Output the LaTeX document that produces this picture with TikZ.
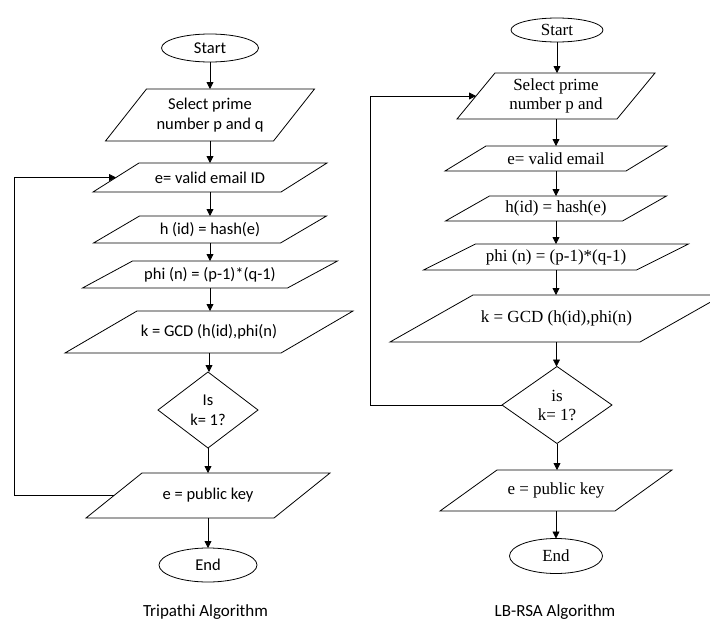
\documentclass[tikz,border=0pt]{standalone}
\usepackage{fontspec}
\setmainfont{Liberation Serif}
\newfontfamily\calibri{Carlito}
\usetikzlibrary{shapes.geometric,arrows.meta}
\begin{document}
\begin{tikzpicture}[x=1pt,y=-1pt,line width=0.8pt,
  flow/.style={-{Triangle[length=7pt,width=7pt]}},
  io/.style 2 args={rectangle,inner sep=0pt,outer sep=0pt,align=center,minimum width=#1pt,minimum height=#2pt},
  term/.style={draw,ellipse,inner sep=0pt,outer sep=0pt},
  test/.style={draw,diamond,inner sep=0pt,outer sep=0pt,align=center},
  sans/.style={font=\calibri\fontsize{16.5}{20}\selectfont},
  serif/.style={font=\fontsize{17}{19}\selectfont}]
\useasboundingbox (0,0) rectangle (710,624);
\begin{scope}[sans]
\node[term,minimum width=97pt,minimum height=28pt] (startL) at (210,48) {Start};
\node[io={168}{52}] (selL) at (210,115) {Select prime\\number p and q};
\node[io={188}{29}] (emailL) at (210,177.5) {e= valid email ID};
\node[io={187}{27}] (hashL) at (210,229.5) {h (id) = hash(e)};
\node[io={205}{27}] (phiL) at (210,274.5) {phi (n) = (p-1)*(q-1)};
\node[io={216}{42}] (gcdL) at (209,332) {k = GCD (h(id),phi(n)};
\node[test,minimum width=100pt,minimum height=76pt] (decL) at (208,410) {Is\\k= 1?};
\node[io={188}{45}] (keyL) at (208,495.5) {e = public key};
\node[term,minimum width=98pt,minimum height=34pt] (endL) at (208,565) {End};
\node[font=\calibri\fontsize{17}{20}\selectfont] (capL) at (205.5,612) {Tripathi Algorithm};
\end{scope}
\begin{scope}[serif]
\node[term,minimum width=92pt,minimum height=24pt] (startR) at (557,30) {Start};
\node[io={160}{46}] (selR) at (556,96) {Select prime\\number p and};
\node[io={181}{25}] (emailR) at (556,158.5) {e= valid email};
\node[io={177}{25}] (hashR) at (556,208.5) {h(id) = hash(e)};
\node[io={213}{26}] (phiR) at (556,257) {phi (n) = (p-1)*(q-1)};
\node[io={250}{47}] (gcdR) at (556.5,318.5) {k = GCD (h(id),phi(n)};
\node[test,minimum width=110pt,minimum height=77pt] (decR) at (557,405) {is\\k= 1?};
\node[io={175}{41}] (keyR) at (556,490.5) {e = public key};
\node[term,minimum width=93pt,minimum height=35pt] (endR) at (556,556) {End};
\node[font=\calibri\fontsize{17}{20}\selectfont] (capR) at (555,612) {LB-RSA Algorithm};
\end{scope}
\foreach \n/\s in {selL/41,emailL/46,hashL/46,phiL/50,gcdL/72,keyL/56,
  selR/38,emailR/41,hashR/44,phiR/52,gcdR/83,keyR/57}
  {\draw ([xshift=-\s*0.5pt]\n.south west) -- ([xshift=-\s*0.5pt]\n.south east)
     -- ([xshift=\s*0.5pt]\n.north east) -- ([xshift=\s*0.5pt]\n.north west) -- cycle;}
\foreach \a/\b in {startL/selL,selL/emailL,emailL/hashL,hashL/phiL,phiL/gcdL,gcdL/decL,decL/keyL,keyL/endL,
  startR/selR,selR/emailR,emailR/hashR,hashR/phiR,phiR/gcdR,gcdR/decR,decR/keyR,keyR/endR}
  {\draw[flow] (\a.south) -- (\a.south |- \b.north);}
\coordinate (loopL) at (14,0);
\coordinate (loopR) at (370,0);
\draw[flow] (keyL.west) -- (keyL.west -| loopL) |- (emailL.west);
\draw[flow] (decR.west) -- (decR.west -| loopR) |- (selR.west);
\end{tikzpicture}
\end{document}
